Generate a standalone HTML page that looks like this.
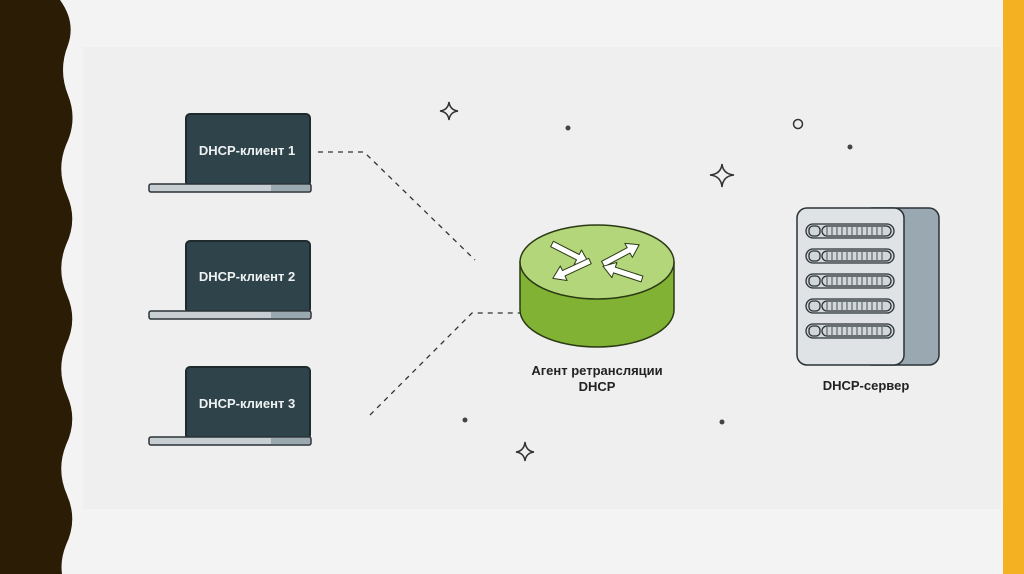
<!DOCTYPE html>
<html><head><meta charset="utf-8"><style>
body{margin:0;width:1024px;height:574px;overflow:hidden;background:#f2f2f2;font-family:"Liberation Sans","DejaVu Sans",sans-serif}
</style></head><body>
<svg width="1024" height="574" viewBox="0 0 1024 574" xmlns="http://www.w3.org/2000/svg" style="position:absolute;left:0;top:0">
<defs>
<polygon id="arr" points="0,-3 29,-3 29,-8 41,0 29,8 29,3 0,3" fill="#fff" stroke="#2a3a14" stroke-width="1" stroke-linejoin="round"/>
</defs>
<rect x="0" y="0" width="1024" height="574" fill="#f3f3f3"/>
<rect x="83" y="47" width="918" height="462" fill="#efefef"/>
<rect x="1003" y="0" width="21" height="574" fill="#f4b223"/>
<path d="M0 0 H60 Q76 22 68 45 Q58 70 68 95 Q78 120 66 145 Q56 170 67 195 Q78 220 66 245 Q56 270 67 295 Q78 320 66 345 Q56 370 67 395 Q78 420 66 445 Q56 470 67 495 Q78 520 66 545 Q60 560 62 574 H0 Z" fill="#2a1c05"/>
<g id="lap">
<rect x="186" y="114" width="124" height="72" rx="4" fill="#2f434a" stroke="#1f2a2e" stroke-width="2"/>
<rect x="149" y="184" width="162" height="8" rx="2" fill="#c8cfd3" stroke="#2a3236" stroke-width="1.5"/>
<rect x="271" y="185" width="39" height="6" fill="#9aa8b0"/>
</g>
<use href="#lap" y="127"/>
<use href="#lap" y="253"/>
<g font-size="13" font-weight="bold" fill="#eef2f2" text-anchor="middle">
<text x="247" y="155">DHCP-клиент 1</text>
<text x="247" y="281">DHCP-клиент 2</text>
<text x="247" y="408">DHCP-клиент 3</text>
</g>
<g fill="none" stroke="#333" stroke-width="1.3" stroke-dasharray="5 5">
<path d="M318 152 H364 L475 260"/>
<path d="M370 415 L472 313 H520"/>
</g>
<path d="M520 262 V310 A77 37 0 0 0 674 310 V262 Z" fill="#82b234" stroke="#2a3a14" stroke-width="1.5"/>
<ellipse cx="597" cy="262" rx="77" ry="37" fill="#b4d67a" stroke="#2a3a14" stroke-width="1.5"/>
<use href="#arr" transform="translate(552,244) rotate(27)"/>
<use href="#arr" transform="translate(603,264) rotate(-28)"/>
<use href="#arr" transform="translate(590,261) rotate(155)"/>
<use href="#arr" transform="translate(642,279) rotate(198)"/>
<text x="597" y="375" font-size="13" font-weight="bold" fill="#222" text-anchor="middle">Агент ретрансляции</text>
<text x="597" y="391" font-size="13" font-weight="bold" fill="#222" text-anchor="middle">DHCP</text>
<rect x="862" y="208" width="77" height="157" rx="10" fill="#9aa9b1" stroke="#2a3236" stroke-width="1.5"/>
<rect x="797" y="208" width="107" height="157" rx="10" fill="#dfe3e5" stroke="#2a3236" stroke-width="1.5"/>
<g id="sl" fill="none" stroke="#2a3236" stroke-width="1.3">
<rect x="806" y="224" width="88" height="14" rx="7" fill="#d0d6d9"/>
<rect x="809" y="226" width="11" height="10" rx="4"/>
<rect x="822" y="226" width="69" height="10" rx="5"/>
<path d="M827 227 V235 M832 227 V235 M837 227 V235 M842 227 V235 M847 227 V235 M852 227 V235 M857 227 V235 M862 227 V235 M867 227 V235 M872 227 V235 M877 227 V235 M882 227 V235" stroke-width="0.8"/>
</g>
<use href="#sl" y="25"/><use href="#sl" y="50"/><use href="#sl" y="75"/><use href="#sl" y="100"/>
<text x="866" y="390" font-size="13" font-weight="bold" fill="#222" text-anchor="middle">DHCP-сервер</text>
<g fill="none" stroke="#333" stroke-width="1.5">
<path d="M449 102 Q450 110 458 111 Q450 112 449 120 Q448 112 440 111 Q448 110 449 102Z"/>
<path d="M722 164 Q723 174 734 175 Q723 176 722 187 Q721 176 710 175 Q721 174 722 164Z"/>
<path d="M525 442 Q526 451 534 452 Q526 453 525 461 Q524 453 516 452 Q524 451 525 442Z"/>
<circle cx="798" cy="124" r="4.5"/>
</g>
<g fill="#444"><circle cx="568" cy="128" r="2.5"/><circle cx="850" cy="147" r="2.5"/><circle cx="465" cy="420" r="2.5"/><circle cx="722" cy="422" r="2.5"/></g>
</svg>
</body></html>
